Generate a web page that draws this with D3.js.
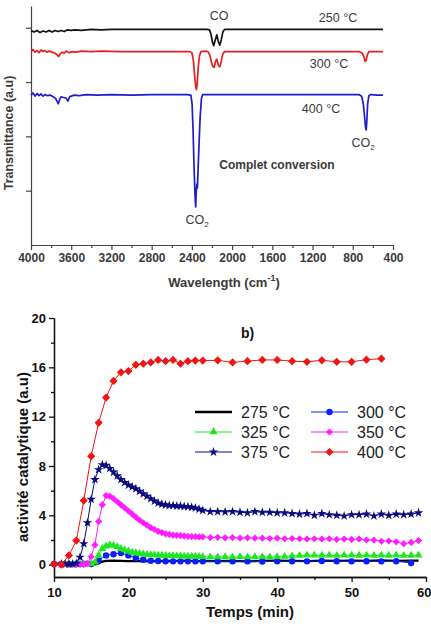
<!DOCTYPE html>
<html>
<head>
<meta charset="utf-8">
<script src="https://cdn.jsdelivr.net/npm/d3@7"></script>
<style>
  body { margin: 0; background: #fff; }
  svg { display: block; font-family: "Liberation Sans", Arial, sans-serif; }
</style>
</head>
<body>
<div id="chart"></div>
<script>
// ---- top panel : IR spectra [wavenumber, transmittance (a.u)] ----
var spec250 = [[4000,3.95],[3970,3.92],[3940,3.95],[3910,3.91],[3880,3.94],[3850,3.92],[3820,3.95],[3790,3.92],
  [3760,3.95],[3730,3.93],[3700,3.95],[3670,3.93],[3640,3.96],[3600,3.95],[3560,3.96],[3500,3.95],[3450,3.96],
  [3400,3.97],[3300,3.96],[3200,3.97],[3000,3.97],[2800,3.97],[2600,3.97],[2400,3.97],[2250,3.97],[2225,3.96],
  [2210,3.88],[2195,3.73],[2182,3.67],[2170,3.76],[2152,3.87],[2138,3.75],[2122,3.68],[2108,3.78],[2092,3.92],
  [2075,3.97],[2040,3.97],[1800,3.97],[1400,3.97],[1000,3.97],[700,3.97],[500,3.97]];
var spec300 = [[4000,3.56],[3980,3.6],[3960,3.55],[3940,3.58],[3920,3.54],[3900,3.59],[3880,3.56],[3860,3.58],
  [3840,3.55],[3820,3.57],[3790,3.55],[3760,3.53],[3740,3.5],[3725,3.47],[3710,3.52],[3690,3.55],[3670,3.53],
  [3650,3.57],[3620,3.54],[3590,3.56],[3550,3.55],[3500,3.57],[3400,3.56],[3300,3.57],[3100,3.56],[2900,3.56],
  [2700,3.56],[2500,3.56],[2420,3.56],[2400,3.54],[2385,3.4],[2372,3.1],[2362,2.92],[2355,2.86],[2348,2.95],
  [2338,3.25],[2325,3.48],[2310,3.56],[2260,3.57],[2240,3.56],[2222,3.5],[2205,3.36],[2190,3.28],[2178,3.27],
  [2165,3.38],[2152,3.42],[2138,3.32],[2122,3.28],[2108,3.38],[2092,3.52],[2075,3.56],[2000,3.56],[1600,3.56],
  [1200,3.56],[900,3.56],[740,3.56],[710,3.54],[690,3.47],[678,3.38],[668,3.4],[655,3.5],[640,3.56],[600,3.56],[500,3.56]];
var spec400 = [[4000,2.76],[3980,2.8],[3960,2.74],[3940,2.79],[3920,2.75],[3900,2.78],[3880,2.74],[3860,2.77],
  [3840,2.75],[3810,2.76],[3780,2.73],[3755,2.7],[3740,2.64],[3728,2.6],[3715,2.68],[3700,2.73],[3685,2.72],
  [3665,2.71],[3648,2.7],[3632,2.65],[3615,2.73],[3600,2.74],[3570,2.76],[3520,2.75],[3450,2.77],[3350,2.76],
  [3200,2.77],[3000,2.76],[2800,2.77],[2600,2.77],[2450,2.77],[2410,2.76],[2398,2.6],[2388,2.1],[2378,1.4],
  [2368,0.9],[2362,0.7],[2356,1.0],[2350,1.12],[2345,1.05],[2338,1.4],[2328,1.9],[2318,2.35],[2305,2.7],
  [2292,2.77],[2200,2.77],[2000,2.77],[1600,2.77],[1200,2.77],[900,2.77],[740,2.77],[712,2.74],[695,2.6],
  [682,2.35],[672,2.15],[666,2.12],[660,2.3],[652,2.6],[640,2.75],[620,2.77],[560,2.76],[500,2.76]];
var waveTicks = [4000,3600,3200,2800,2400,2000,1600,1200,800,400];

// ---- bottom panel : activite catalytique vs temps ----
var t275 = [10,11,12,13,14,15,15.5,16,16.5,17,18,19,20,21,22,23,24,25,26,27,28,29,30,32,34,36,38,40,42,44,46,48,50,52,54,56,58,59];
var v275 = [0.02,0.02,0.02,0.02,0.02,0.02,0.03,0.1,0.25,0.3,0.32,0.3,0.28,0.3,0.26,0.3,0.27,0.3,0.28,0.32,0.3,0.29,0.3,
  0.28,0.3,0.27,0.3,0.32,0.3,0.28,0.33,0.3,0.32,0.3,0.35,0.3,0.33,0.32];
var t300 = [10,11,12,13,14,15,16,17,18,19,20,21,22,23,24,25,26,27,28,29,30,32,34,36,38,40,42,44,46,48,50,52,54,56,58];
var v300 = [0.05,0.05,0.05,0.05,0.05,0.05,0.35,0.75,0.85,0.95,0.75,0.55,0.4,0.32,0.3,0.28,0.27,0.27,0.27,0.27,0.27,
  0.28,0.27,0.28,0.26,0.27,0.28,0.27,0.3,0.28,0.27,0.28,0.27,0.28,0.14];
var t325 = [11,11.5,12,12.5,13,13.5,14,14.5,15,15.5,16,16.5,17,17.5,18,18.5,19,19.5,20,20.5,21,21.5,22,22.5,23,23.5,
  24,24.5,25,25.5,26,26.5,27,27.5,28,28.5,29,29.5,30,31,32,33,34,35,36,37,38,39,40,41,42,43,44,45,46,47,48,49,50,51,
  52,53,54,55,56,57,58,59];
var v325 = [0.05,0.05,0.05,0.05,0.05,0.05,0.05,0.05,0.08,0.2,0.75,1.3,1.5,1.6,1.55,1.45,1.3,1.2,1.1,1.0,0.95,0.9,0.85,
  0.82,0.8,0.78,0.76,0.75,0.74,0.72,0.72,0.7,0.7,0.68,0.68,0.66,0.66,0.65,0.64,
  0.62,0.62,0.63,0.62,0.64,0.62,0.63,0.64,0.62,0.64,0.66,0.7,0.74,0.76,0.76,0.75,0.76,0.74,0.76,0.76,0.75,0.76,0.74,
  0.76,0.75,0.76,0.74,0.75,0.76];
var t350 = [12,12.5,13,13.5,14,14.5,15,15.5,16,16.5,17,17.5,18,18.5,19,19.5,20,20.5,21,21.5,22,22.5,23,23.5,24,24.5,
  25,25.5,26,26.5,27,27.5,28,28.5,29,29.5,30,31,32,33,34,35,36,37,38,39,40,41,42,43,44,45,46,47,48,49,50,51,52,53,
  54,55,56,57,58,59];
var v350 = [0.02,0.02,0.02,0.02,0.03,0.1,0.65,1.6,3.5,4.85,5.6,5.55,5.35,5.1,4.85,4.6,4.35,4.1,3.85,3.6,3.4,3.2,3.0,
  2.85,2.7,2.6,2.5,2.45,2.4,2.38,2.35,2.32,2.3,2.28,2.27,2.25,2.25,
  2.2,2.22,2.18,2.2,2.15,2.18,2.15,2.15,2.12,2.15,2.1,2.12,2.1,2.08,2.1,2.08,2.1,2.05,2.08,2.05,2.08,2.0,2.0,1.9,
  1.92,1.85,1.7,1.8,1.95];
var t375 = [11,11.5,12,12.5,13,13.5,14,14.5,15,15.5,16,16.5,17,17.5,18,18.5,19,19.5,20,20.5,21,21.5,22,22.5,23,23.5,
  24,24.5,25,25.5,26,26.5,27,27.5,28,28.5,29,29.5,30,31,32,33,34,35,36,37,38,39,40,41,42,43,44,45,46,47,48,49,50,51,
  52,53,54,55,56,57,58,59];
var v375 = [0.05,0.05,0.05,0.05,0.1,0.6,1.7,3.4,5.3,6.9,7.7,8.1,8.05,7.8,7.5,7.2,6.9,6.65,6.45,6.3,6.15,5.95,5.75,
  5.55,5.35,5.15,5.0,4.9,4.85,4.8,4.8,4.75,4.75,4.72,4.7,4.65,4.6,4.5,4.4,
  4.3,4.3,4.28,4.3,4.25,4.2,4.3,4.25,4.25,4.2,4.2,4.15,4.1,4.15,4.0,4.15,4.05,4.0,3.95,4.05,4.05,4.1,3.95,4.1,4.0,
  4.1,4.05,4.1,4.2];
var t400 = [10,11,12,13,14,15,16,17,18,19,20,21,22,23,24,25,26,27,28,29,30,32,34,36,38,40,42,44,46,48,50,52,54];
var v400 = [0.05,0.0,0.75,1.95,5.2,8.8,11.5,13.55,14.9,15.6,15.7,16.2,16.3,16.4,16.6,16.5,16.6,16.3,16.5,16.55,16.55,
  16.57,16.4,16.5,16.6,16.6,16.5,16.45,16.57,16.45,16.45,16.62,16.7];
var timeTicks = [10,20,30,40,50,60];
var actTicks = [0,4,8,12,16,20];

var W = 431, H = 626;
var svg = d3.select("#chart").append("svg").attr("width", W).attr("height", H);

// ================= top panel =================
var xW = d3.scaleLinear().domain([4000, 400]).range([31, 393]);
var yT = d3.scaleLinear().domain([0, 4.4]).range([245, 6]);
var topG = svg.append("g");

var gx1 = topG.append("g").attr("transform", "translate(0,245)")
  .call(d3.axisBottom(xW).tickValues(waveTicks).tickSize(5).tickSizeOuter(0).tickPadding(3).tickFormat(d3.format("d")));
topG.append("g").attr("transform", "translate(0,245)")
  .call(d3.axisBottom(xW).tickValues(d3.range(3800, 400, -400)).tickSize(3).tickSizeOuter(0).tickFormat(""));
var gy1 = topG.append("g").attr("transform", "translate(31,0)")
  .call(d3.axisLeft(yT).tickValues([1, 2, 3, 4]).tickSize(5).tickSizeOuter(0).tickFormat(""));
topG.selectAll(".domain, .tick line").attr("stroke", "#444").attr("stroke-width", 1.2);
gx1.selectAll("text").attr("font-size", 12).attr("font-weight", "bold").attr("fill", "#3a3a3a")
  .attr("font-family", "'Liberation Sans', Arial, sans-serif");

var specLine = d3.line().x(function(d){ return xW(d[0]); }).y(function(d){ return yT(d[1]); });
[[spec250, "#111"], [spec300, "#e61e1e"], [spec400, "#1c1cd2"]].forEach(function(s) {
  topG.append("path").datum(s[0]).attr("d", specLine)
    .attr("fill", "none").attr("stroke", s[1]).attr("stroke-width", 1.7).attr("stroke-linejoin", "round");
});

function label(g, x, y, txt, size, weight, anchor) {
  return g.append("text").attr("x", x).attr("y", y).attr("font-size", size)
    .attr("font-weight", weight || "normal").attr("text-anchor", anchor || "middle")
    .attr("fill", "#3a3a3a").text(txt);
}
label(topG, 219, 20, "CO", 12.5);
label(topG, 338, 22, "250 °C", 12.5);
label(topG, 329, 68, "300 °C", 12.5);
label(topG, 321, 113, "400 °C", 12.5);
label(topG, 277, 169, "Complet conversion", 12, "bold");
var co2a = label(topG, 363, 147, "CO", 12.5);
co2a.append("tspan").attr("font-size", 8).attr("dy", 3).text("2");
var co2b = label(topG, 197, 224, "CO", 12.5);
co2b.append("tspan").attr("font-size", 8).attr("dy", 3).text("2");

var wl = label(topG, 224, 287, "Wavelength (cm", 13, "bold");
wl.append("tspan").attr("font-size", 9).attr("dy", -6).text("-1");
wl.append("tspan").attr("dy", 6).text(")");
label(topG, 0, 0, "Transmittance (a.u)", 12.5, "bold")
  .attr("transform", "translate(13,133) rotate(-90)");

// ================= bottom panel =================
var xT = d3.scaleLinear().domain([10, 60]).range([54, 426]);
var yA = d3.scaleLinear().domain([-1, 20]).range([577, 318]);
var bot = svg.append("g");

var gx2 = bot.append("g").attr("transform", "translate(0,577)")
  .call(d3.axisBottom(xT).tickValues(timeTicks).tickSize(5).tickSizeOuter(0).tickPadding(6));
bot.append("g").attr("transform", "translate(0,577)")
  .call(d3.axisBottom(xT).tickValues([15, 25, 35, 45, 55]).tickSize(3).tickSizeOuter(0).tickFormat(""));
var gy2 = bot.append("g").attr("transform", "translate(54,0)")
  .call(d3.axisLeft(yA).tickValues(actTicks).tickSize(5).tickSizeOuter(0).tickPadding(3));
bot.append("g").attr("transform", "translate(54,0)")
  .call(d3.axisLeft(yA).tickValues([2, 6, 10, 14, 18]).tickSize(3).tickSizeOuter(0).tickFormat(""));
bot.selectAll(".domain, .tick line").attr("stroke", "#111").attr("stroke-width", 1.3);
bot.selectAll(".tick text").attr("font-size", 13).attr("font-weight", "bold").attr("fill", "#111")
  .attr("font-family", "'Liberation Sans', Arial, sans-serif");
// the last label sits on the window edge: keep it inside
gx2.selectAll(".tick text").filter(function(d){ return d === 60; }).attr("text-anchor", "end").attr("dx", 5);

// diamonds are drawn as squares turned 45 degrees
var series = [
  {name: "275 °C", t: t275, v: v275, color: "#000", sym: null, lw: 2.2},
  {name: "300 °C", t: t300, v: v300, color: "#0a1eff", sym: d3.symbolCircle, size: 32, rot: 0, lw: 1},
  {name: "325 °C", t: t325, v: v325, color: "#1ee61e", sym: d3.symbolTriangle, size: 28, rot: 0, lw: 1},
  {name: "350 °C", t: t350, v: v350, color: "#ff1eff", sym: d3.symbolSquare, size: 26, rot: 45, lw: 1},
  {name: "375 °C", t: t375, v: v375, color: "#0a0a80", sym: d3.symbolStar, size: 28, rot: 0, lw: 1},
  {name: "400 °C", t: t400, v: v400, color: "#f01414", sym: d3.symbolSquare, size: 34, rot: 45, lw: 1}
];

var actLine = d3.line().x(function(d){ return xT(d[0]); }).y(function(d){ return yA(d[1]); });
series.forEach(function(s) {
  var pts = s.t.map(function(t, i){ return [t, s.v[i]]; });
  var g = bot.append("g");
  g.append("path").datum(pts).attr("d", actLine)
    .attr("fill", "none").attr("stroke", s.color).attr("stroke-width", s.lw);
  if (s.sym) {
    g.selectAll("path.mk").data(pts).enter().append("path").attr("class", "mk")
      .attr("transform", function(d){ return "translate(" + xT(d[0]) + "," + yA(d[1]) + ") rotate(" + s.rot + ")"; })
      .attr("d", d3.symbol().type(s.sym).size(s.size))
      .attr("fill", s.color);
  }
});

// legend, two columns
var legX = [195, 311], legY = [412, 432, 452];
series.forEach(function(s, i) {
  var lx = legX[i % 2], ly = legY[Math.floor(i / 2)];
  var g = bot.append("g");
  g.append("line").attr("x1", lx).attr("x2", lx + 37).attr("y1", ly).attr("y2", ly)
    .attr("stroke", s.color).attr("stroke-width", s.sym ? 1 : 2.5);
  if (s.sym) {
    g.append("path").attr("transform", "translate(" + (lx + 18.5) + "," + ly + ") rotate(" + s.rot + ")")
      .attr("d", d3.symbol().type(s.sym).size(s.size)).attr("fill", s.color);
  }
  g.append("text").attr("x", lx + 46).attr("y", ly + 5.5).attr("font-size", 16)
    .attr("fill", "#222").text(s.name);
});

bot.append("text").attr("x", 241).attr("y", 338).attr("font-size", 14).attr("font-weight", "bold")
  .attr("fill", "#111").text("b)");
bot.append("text").attr("x", 250).attr("y", 617).attr("text-anchor", "middle").attr("font-size", 15)
  .attr("font-weight", "bold").attr("fill", "#111").text("Temps (min)");
bot.append("text").attr("transform", "translate(28,457) rotate(-90)").attr("text-anchor", "middle")
  .attr("font-size", 15).attr("font-weight", "bold").attr("fill", "#111").text("activité catalytique (a.u)");
</script>
</body>
</html>
